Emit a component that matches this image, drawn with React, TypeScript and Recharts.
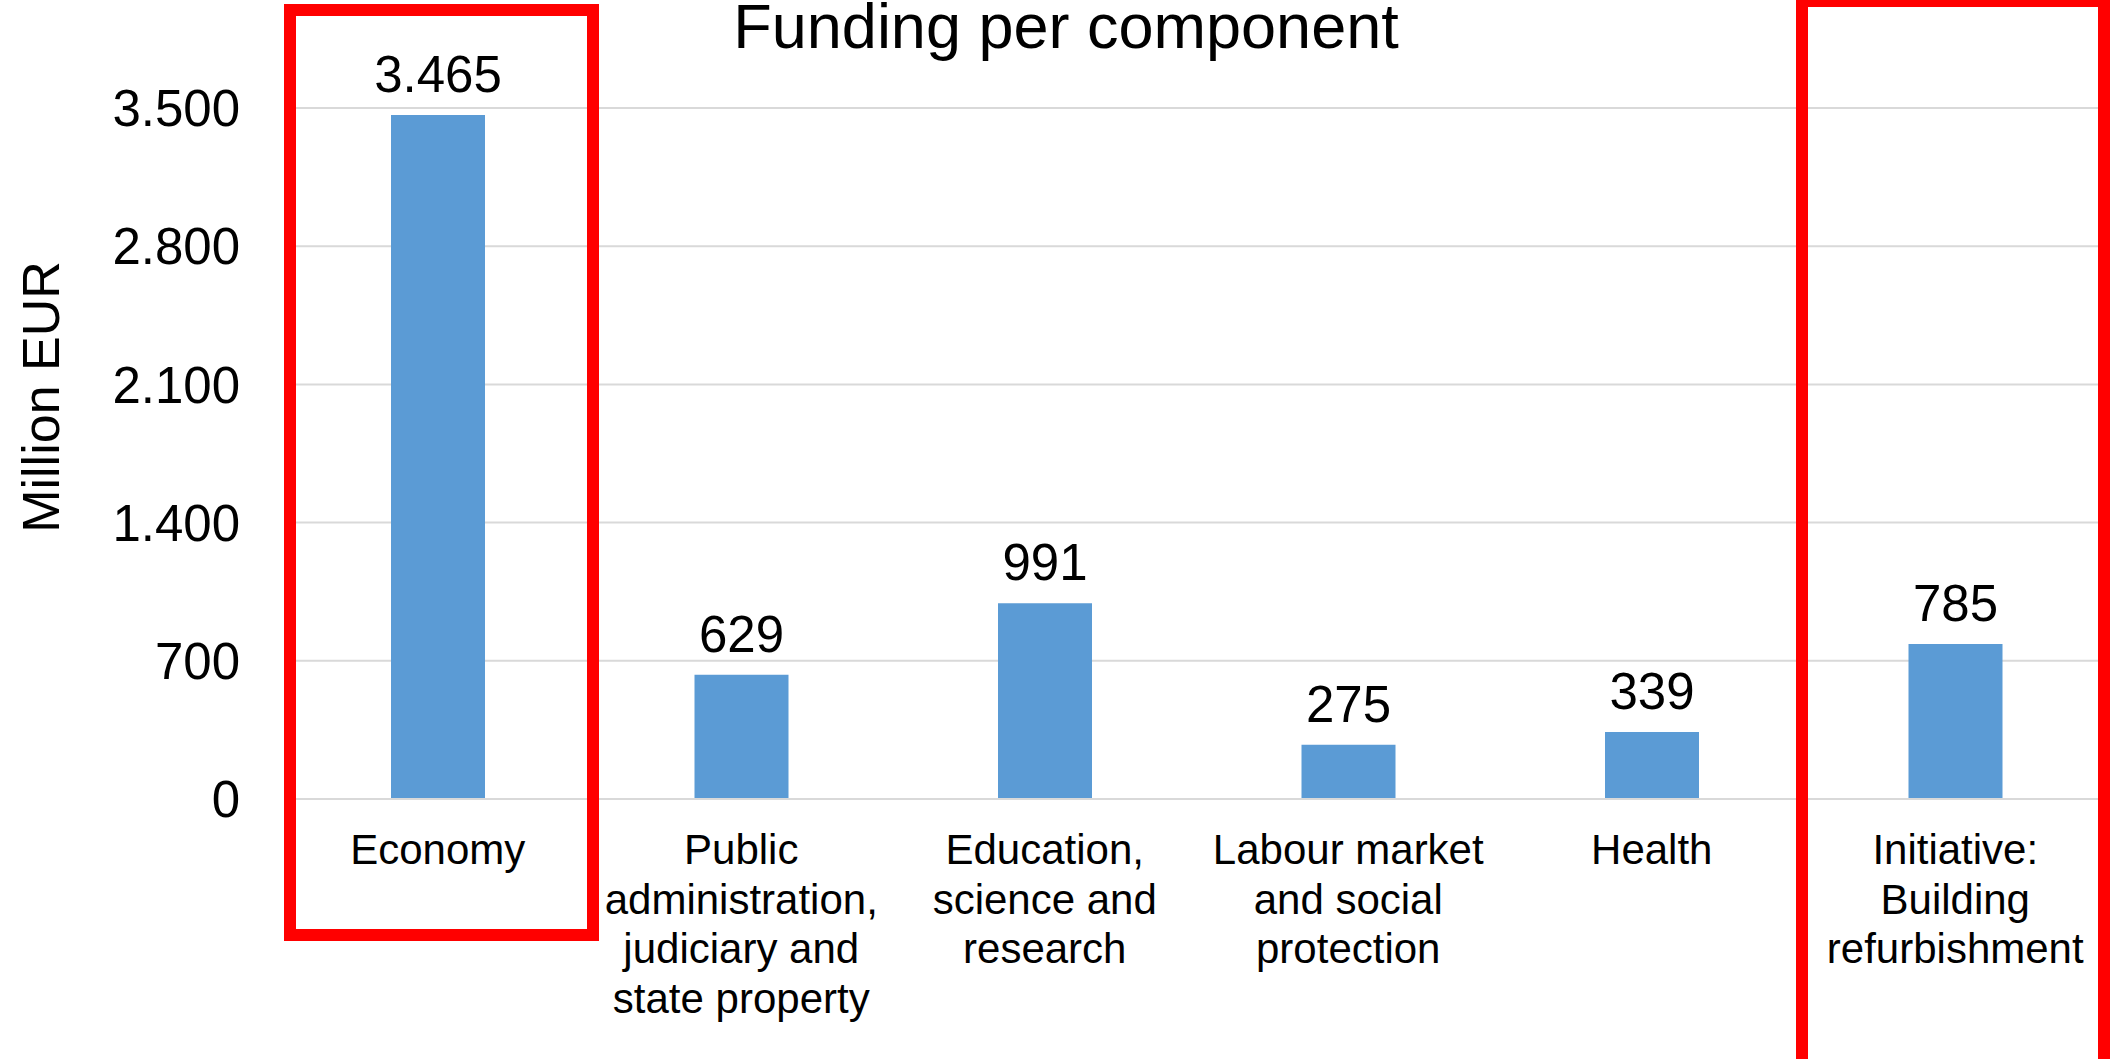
import React from 'react';
import { BarChart, Bar, XAxis, YAxis, CartesianGrid, LabelList } from 'recharts';

const categories = [
  'Economy',
  'Public administration, judiciary and state property',
  'Education, science and research',
  'Labour market and social protection',
  'Health',
  'Initiative: Building refurbishment',
];
const categoryLines = [
  ['Economy'],
  ['Public', 'administration,', 'judiciary and', 'state property'],
  ['Education,', 'science and', 'research'],
  ['Labour market', 'and social', 'protection'],
  ['Health'],
  ['Initiative:', 'Building', 'refurbishment'],
];
const funding = [3465, 629, 991, 275, 339, 785];
const yTicks = [0, 700, 1400, 2100, 2800, 3500];

const data = categories.map((name, i) => ({ name, value: funding[i] }));

const FONT = '"Liberation Sans", Arial, sans-serif';

// 3465 -> "3.465"
const fmt = (v: number) => String(v).replace(/\B(?=(\d{3})+(?!\d))/g, '.');

const CategoryTick = (props: any) => {
  const { x, y, index } = props;
  const lines = categoryLines[index] || [];
  return (
    <text x={x} y={y + 57} textAnchor="middle" fontSize={42} fontFamily={FONT} fill="#000">
      {lines.map((l, i) => (
        <tspan key={i} x={x} dy={i === 0 ? 0 : 49.5}>
          {l}
        </tspan>
      ))}
    </text>
  );
};

export default function App() {
  return (
    <div style={{ position: 'absolute', left: 0, top: 0, width: 2116, height: 1059, background: '#fff' }}>
      <BarChart
        width={2116}
        height={1059}
        data={data}
        margin={{ top: 108, right: 9, bottom: 10, left: 0 }}
        barSize={94}
      >
        <CartesianGrid vertical={false} stroke="#d9d9d9" strokeWidth={2} />
        <XAxis
          dataKey="name"
          height={250}
          axisLine={{ stroke: '#d9d9d9', strokeWidth: 2 }}
          tickLine={false}
          interval={0}
          tick={<CategoryTick />}
        />
        <YAxis
          width={286}
          domain={[0, 3500]}
          ticks={yTicks}
          axisLine={false}
          tickLine={false}
          tickMargin={40}
          tickFormatter={fmt}
          tick={{ fontSize: 51, fill: '#000', fontFamily: FONT }}
          label={{
            content: () => (
              <text
                transform="translate(59, 397) rotate(-90)"
                textAnchor="middle"
                fontSize={52}
                fontFamily={FONT}
                fill="#000"
              >
                Million EUR
              </text>
            ),
          }}
        />
        <Bar dataKey="value" fill="#5b9bd5" isAnimationActive={false}>
          <LabelList
            dataKey="value"
            position="top"
            offset={23}
            formatter={(v: any) => fmt(Number(v))}
            fill="#000"
            fontSize={51}
            fontFamily={FONT}
          />
        </Bar>
      </BarChart>
      <svg
        width={2116}
        height={1059}
        style={{ position: 'absolute', left: 0, top: 0, pointerEvents: 'none' }}
      >
        <text x={1066} y={48} textAnchor="middle" fontSize={63} fontFamily={FONT} fill="#000">
          Funding per component
        </text>
        <rect x={290} y={10} width={303} height={925} fill="none" stroke="#ff0000" strokeWidth={12} />
        <rect x={1802} y={1} width={302} height={1070} fill="none" stroke="#ff0000" strokeWidth={12} />
      </svg>
    </div>
  );
}
